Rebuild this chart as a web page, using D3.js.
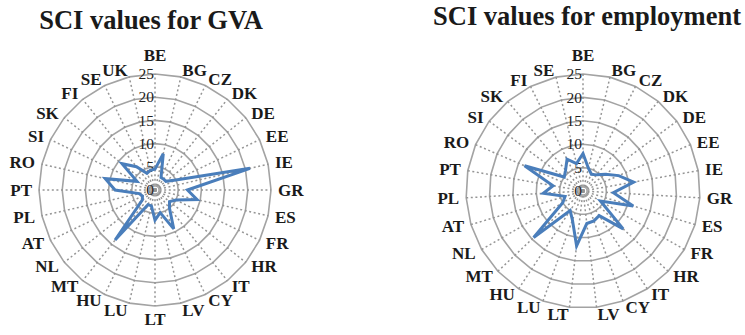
<!DOCTYPE html>
<html>
<head>
<meta charset="utf-8">
<script src="https://cdn.jsdelivr.net/npm/d3@7"></script>
<style>
  body { margin: 0; background: #fff; }
  svg { display: block; }
  svg text { font-family: "Liberation Serif", "Times New Roman", Tinos, Times, serif; }
</style>
</head>
<body>
<svg id="chart" width="745" height="335"></svg>
<script>
// Member states and SCI values, GVA panel
const gvaCountries = ["BE","BG","CZ","DK","DE","EE","IE","GR","ES","FR","HR","IT","CY","LV","LT","LU","HU","MT","NL","AT","PL","PT","RO","SI","SK","FI","SE","UK"];
const gvaValues    = [4.5, 8, 3, 3, 3, 5, 21, 7, 9.3, 5, 4, 5, 9.3, 5, 6.5, 3.5, 3.5, 13.8, 3.5, 3, 3.5, 8.6, 11, 4.3, 9.1, 6.4, 4, 4.4];

// Member states and SCI values, employment panel
const empCountries = ["BE","BG","CZ","DK","DE","EE","IE","GR","ES","FR","HR","IT","CY","LV","LT","LU","HU","MT","NL","AT","PL","PT","RO","SI","SK","FI","SE"];
const empValues    = [8, 5, 4, 4.5, 6, 8.3, 11, 6.5, 11.2, 4.3, 11.8, 6.3, 6.8, 7, 11.8, 6.6, 5, 14.5, 5, 4, 8.5, 6.5, 13.6, 5, 5.8, 7.6, 6];

// Radial axis ticks
const axisTicks = [0, 5, 10, 15, 20, 25];

const svg = d3.select("#chart");

function radar(opts) {
  const { cx, cy, R, title, titleX, titleY, categories, values } = opts;
  const n = categories.length;
  const g = svg.append("g").attr("transform", `translate(${cx},${cy})`);

  const r = d3.scaleLinear().domain([0, d3.max(axisTicks)]).range([0, R]);
  const angle = d3.scaleLinear().domain([0, n]).range([0, 2 * Math.PI]);

  // Concentric gridline polygons
  const ringLine = d3.lineRadial()
    .angle((d, i) => angle(i))
    .radius(d => r(d))
    .curve(d3.curveLinearClosed);
  g.selectAll("path.ring")
    .data(axisTicks.filter(t => t > 0))
    .join("path")
    .attr("class", "ring")
    .attr("d", t => ringLine(categories.map(() => t)))
    .attr("fill", "none")
    .attr("stroke", "#a3a3a3")
    .attr("stroke-width", 1.6);

  // small hub ring
  g.append("circle").attr("r", 4).attr("fill", "none")
    .attr("stroke", "#a3a3a3").attr("stroke-width", 1.4);

  // Dotted spokes
  g.selectAll("line.spoke")
    .data(categories)
    .join("line")
    .attr("class", "spoke")
    .attr("x1", 0).attr("y1", 0)
    .attr("x2", (d, i) => r(d3.max(axisTicks)) * Math.sin(angle(i)))
    .attr("y2", (d, i) => -r(d3.max(axisTicks)) * Math.cos(angle(i)))
    .attr("stroke", "#959595")
    .attr("stroke-width", 1.5)
    .attr("stroke-dasharray", "2,2.6");

  // Tick labels on the vertical axis
  g.selectAll("text.tick")
    .data(axisTicks)
    .join("text")
    .attr("class", "tick")
    .attr("x", -1)
    .attr("y", t => -r(t))
    .attr("dy", "0.33em")
    .attr("text-anchor", "end")
    .attr("font-size", 15.5)
    .attr("fill", "#222")
    .text(d => d);

  // Data polygon
  const dataLine = d3.lineRadial()
    .angle((d, i) => angle(i))
    .radius(d => r(d))
    .curve(d3.curveLinearClosed);
  g.append("path")
    .attr("d", dataLine(values))
    .attr("fill", "none")
    .attr("stroke", "#4a7ebb")
    .attr("stroke-width", 3)
    .attr("stroke-linejoin", "miter");

  // Category labels around the outer ring: left/right of the point by side,
  // vertically centred, except straight up / straight down
  const fs = 17, gap = 7;
  g.selectAll("text.cat")
    .data(categories)
    .join("text")
    .attr("class", "cat")
    .attr("font-weight", "bold")
    .attr("font-size", fs)
    .attr("fill", "#1a1a1a")
    .text(d => d)
    .each(function (d, i) {
      const a = angle(i);
      const s = Math.sin(a), c = Math.cos(a);
      const px = (R + gap) * s;
      const py = -(R + gap) * c;
      const sel = d3.select(this);
      if (Math.abs(s) < 0.01) {
        sel.attr("text-anchor", "middle").attr("x", px)
          .attr("y", c > 0 ? py - 0.34 * fs : py + 0.68 * fs);
      } else {
        sel.attr("text-anchor", s > 0 ? "start" : "end").attr("x", px)
          .attr("y", py + 0.33 * fs);
      }
    });

  // Title
  svg.append("text")
    .attr("x", titleX)
    .attr("y", titleY)
    .attr("text-anchor", "middle")
    .attr("font-weight", "bold")
    .attr("font-size", 26.5)
    .attr("fill", "#1a1a1a")
    .text(title);
}

radar({
  cx: 155, cy: 190, R: 116,
  title: "SCI values for GVA", titleX: 151, titleY: 29,
  categories: gvaCountries, values: gvaValues
});

radar({
  cx: 583, cy: 191, R: 117,
  title: "SCI values for employment", titleX: 587, titleY: 25,
  categories: empCountries, values: empValues
});
</script>
</body>
</html>
